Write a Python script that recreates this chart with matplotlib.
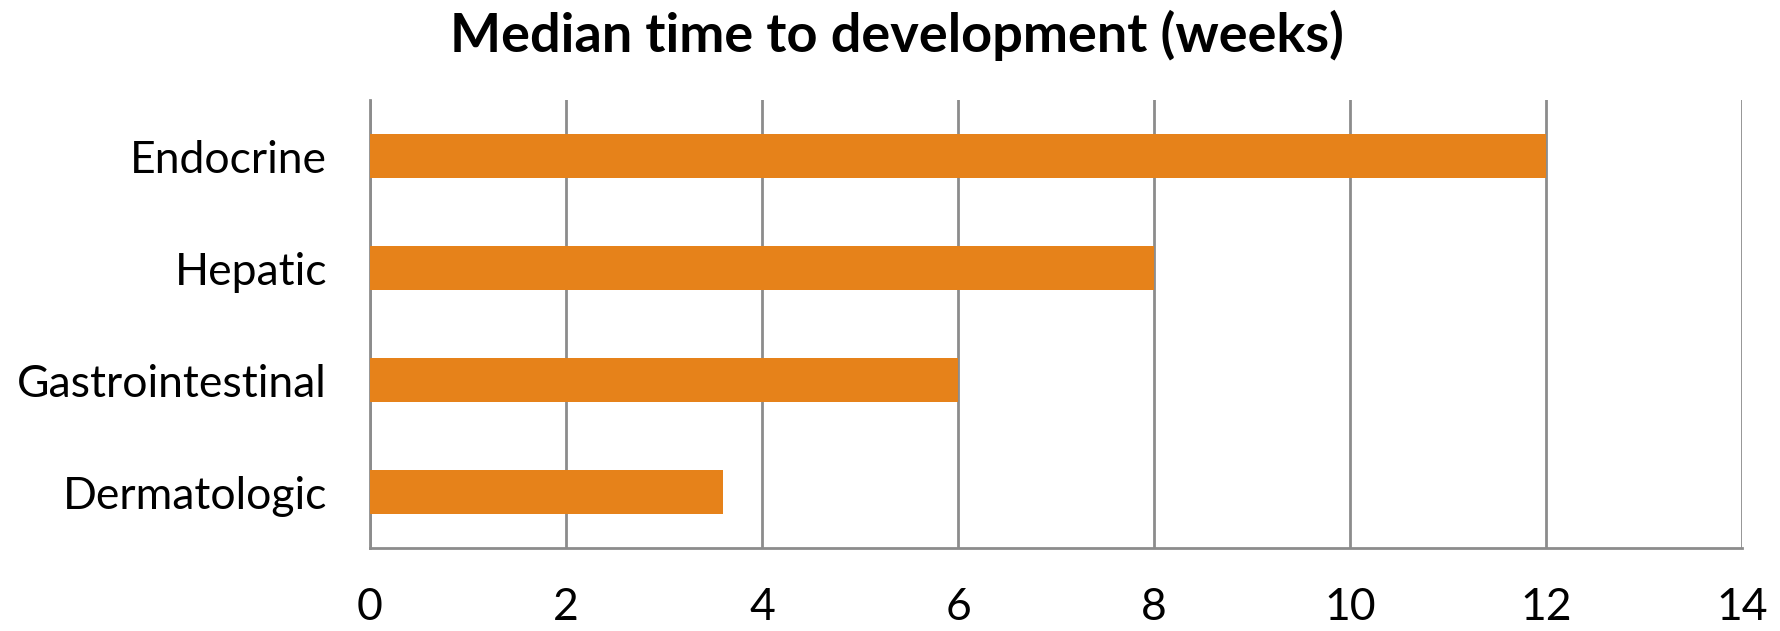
import matplotlib.pyplot as plt

plt.rcParams['font.family'] = ['Lato', 'DejaVu Sans']

categories = ['Dermatologic', 'Gastrointestinal', 'Hepatic', 'Endocrine']
weeks = [3.6, 6, 8, 12]
x_ticks = [0, 2, 4, 6, 8, 10, 12, 14]

bar_color = '#E6821A'
grid_color = '#8C8C8C'

fig = plt.figure(figsize=(17.8, 6.31), dpi=100)
ax = fig.add_axes([0.2079, 0.1315, 0.7708, 0.71])

ax.barh(range(len(categories)), weeks, height=0.4, color=bar_color, zorder=3)

ax.set_xlim(0, 14)
ax.set_ylim(-0.5, len(categories) - 0.5)
ax.set_xticks(x_ticks)
ax.set_yticks(range(len(categories)))
ax.set_yticklabels(categories)
ax.tick_params(axis='both', length=0, labelsize=32)
ax.tick_params(axis='x', pad=28)
ax.tick_params(axis='y', pad=31)
ax.grid(axis='x', color=grid_color, linewidth=2, zorder=0)

for side in ['top', 'right']:
    ax.spines[side].set_visible(False)
for side in ['left', 'bottom']:
    ax.spines[side].set_color(grid_color)
    ax.spines[side].set_linewidth(2)

fig.suptitle('Median time to development (weeks)', x=0.504, y=0.985,
             fontsize=39, fontweight='bold', va='top')

fig.savefig('out.png', dpi=100)
